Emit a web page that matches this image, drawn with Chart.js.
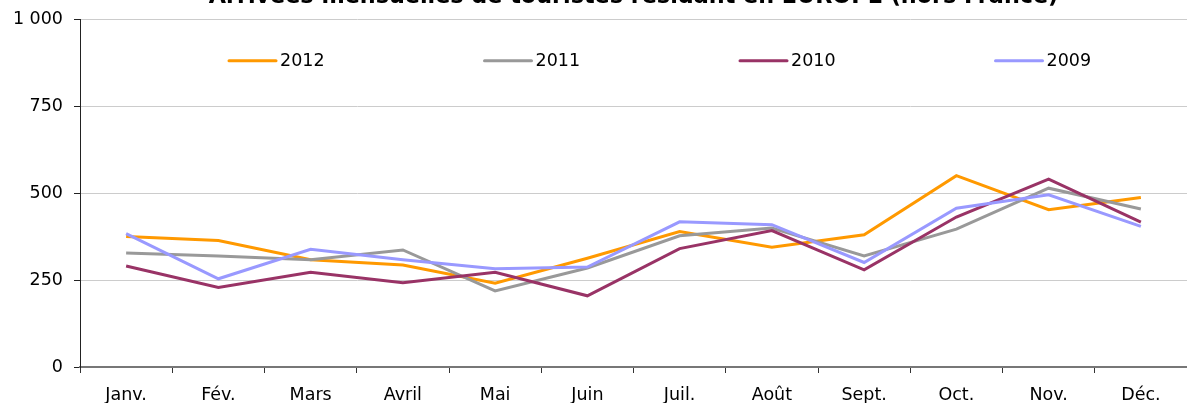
<!DOCTYPE html>
<html>
<head>
<meta charset="utf-8">
<script src="https://cdn.jsdelivr.net/npm/chart.js@4"></script>
<style>
  html, body { margin: 0; padding: 0; background: #fff; overflow: hidden; }
  #wrap { position: absolute; left: 0; top: -20px; width: 1187px; height: 423px; }
</style>
</head>
<body>
<div id="wrap"><canvas id="chart"></canvas></div>
<script>
'use strict';

const months = ['Janv.', 'Fév.', 'Mars', 'Avril', 'Mai', 'Juin', 'Juil.', 'Août', 'Sept.', 'Oct.', 'Nov.', 'Déc.'];
const arrivals2012 = [376, 364, 309, 294, 241, 313, 390, 345, 381, 551, 453, 488];
const arrivals2011 = [328, 320, 309, 337, 219, 285, 378, 400, 320, 397, 515, 455];
const arrivals2010 = [291, 229, 273, 243, 273, 205, 341, 393, 280, 432, 541, 417];
const arrivals2009 = [384, 254, 339, 309, 283, 288, 418, 410, 301, 457, 496, 405];
const yTicks = [0, 250, 500, 750, 1000];

const titleText = 'Arrivées mensuelles de touristes résidant en EUROPE (hors France)';
const fontFamily = '"DejaVu Sans", Verdana, sans-serif';
const labelSize = 17.5;

let canvasElem = document.getElementById('chart');

// legend sits inside the plot, one item per quarter
const insideLegend = {
  id: 'insideLegend',
  afterDatasetsDraw(chart) {
    const ctx = chart.ctx;
    const area = chart.chartArea;
    const y = area.top + 41;
    ctx.save();
    ctx.font = labelSize + 'px ' + fontFamily;
    ctx.textBaseline = 'middle';
    ctx.textAlign = 'left';
    chart.data.datasets.forEach((ds, i) => {
      const x = area.left + 149 + i * 255.5;
      ctx.strokeStyle = ds.borderColor;
      ctx.lineWidth = 3;
      ctx.lineCap = 'round';
      ctx.beginPath();
      ctx.moveTo(x, y);
      ctx.lineTo(x + 47, y);
      ctx.stroke();
      ctx.fillStyle = '#000';
      ctx.fillText(ds.label, x + 51, y + 1);
    });
    ctx.restore();
  }
};

function makeSet(label, data, color, order) {
  return {
    label: label,
    data: data,
    borderColor: color,
    backgroundColor: color,
    borderWidth: 3,
    pointRadius: 0,
    tension: 0,
    order: order,
  };
}

function renderChart() {
  return new Chart(canvasElem, {
    type: 'line',
    data: {
      labels: months,
      datasets: [
        makeSet('2012', arrivals2012, '#FF9900', 3),
        makeSet('2011', arrivals2011, '#999999', 2),
        makeSet('2010', arrivals2010, '#993366', 1),
        makeSet('2009', arrivals2009, '#9999FF', 0),
      ],
    },
    plugins: [insideLegend],
    options: {
      responsive: true,
      maintainAspectRatio: false,
      animation: false,
      layout: { padding: 0 },
      plugins: {
        legend: { display: false },
        tooltip: { enabled: false },
        title: {
          display: true,
          text: titleText,
          fullSize: false,
          color: '#000',
          font: { family: fontFamily, size: 22.3, weight: 'bold' },
          padding: { top: 4, bottom: 9 },
        },
      },
      scales: {
        x: {
          offset: true,
          grid: {
            offset: true,
            color: 'transparent',
            tickColor: '#333',
            tickLength: 6,
          },
          border: { color: '#777', width: 2 },
          ticks: {
            color: '#000',
            font: { family: fontFamily, size: labelSize },
            padding: 12,
            maxRotation: 0,
            autoSkip: false,
          },
          afterFit(scale) { scale.height = 36; },
        },
        y: {
          min: 0,
          max: 1000,
          afterBuildTicks(scale) {
            scale.ticks = yTicks.map(v => ({ value: v }));
          },
          grid: {
            color: '#cccccc',
            tickColor: '#222',
            tickLength: 6,
          },
          border: { color: '#222', width: 1 },
          ticks: {
            color: '#000',
            font: { family: fontFamily, size: labelSize },
            padding: 11,
            callback: v => String(v).replace(/\B(?=(\d{3})+(?!\d))/g, ' '),
          },
          afterFit(scale) { scale.width = 80; },
        },
      },
    },
  });
}

renderChart();
</script>
</body>
</html>
